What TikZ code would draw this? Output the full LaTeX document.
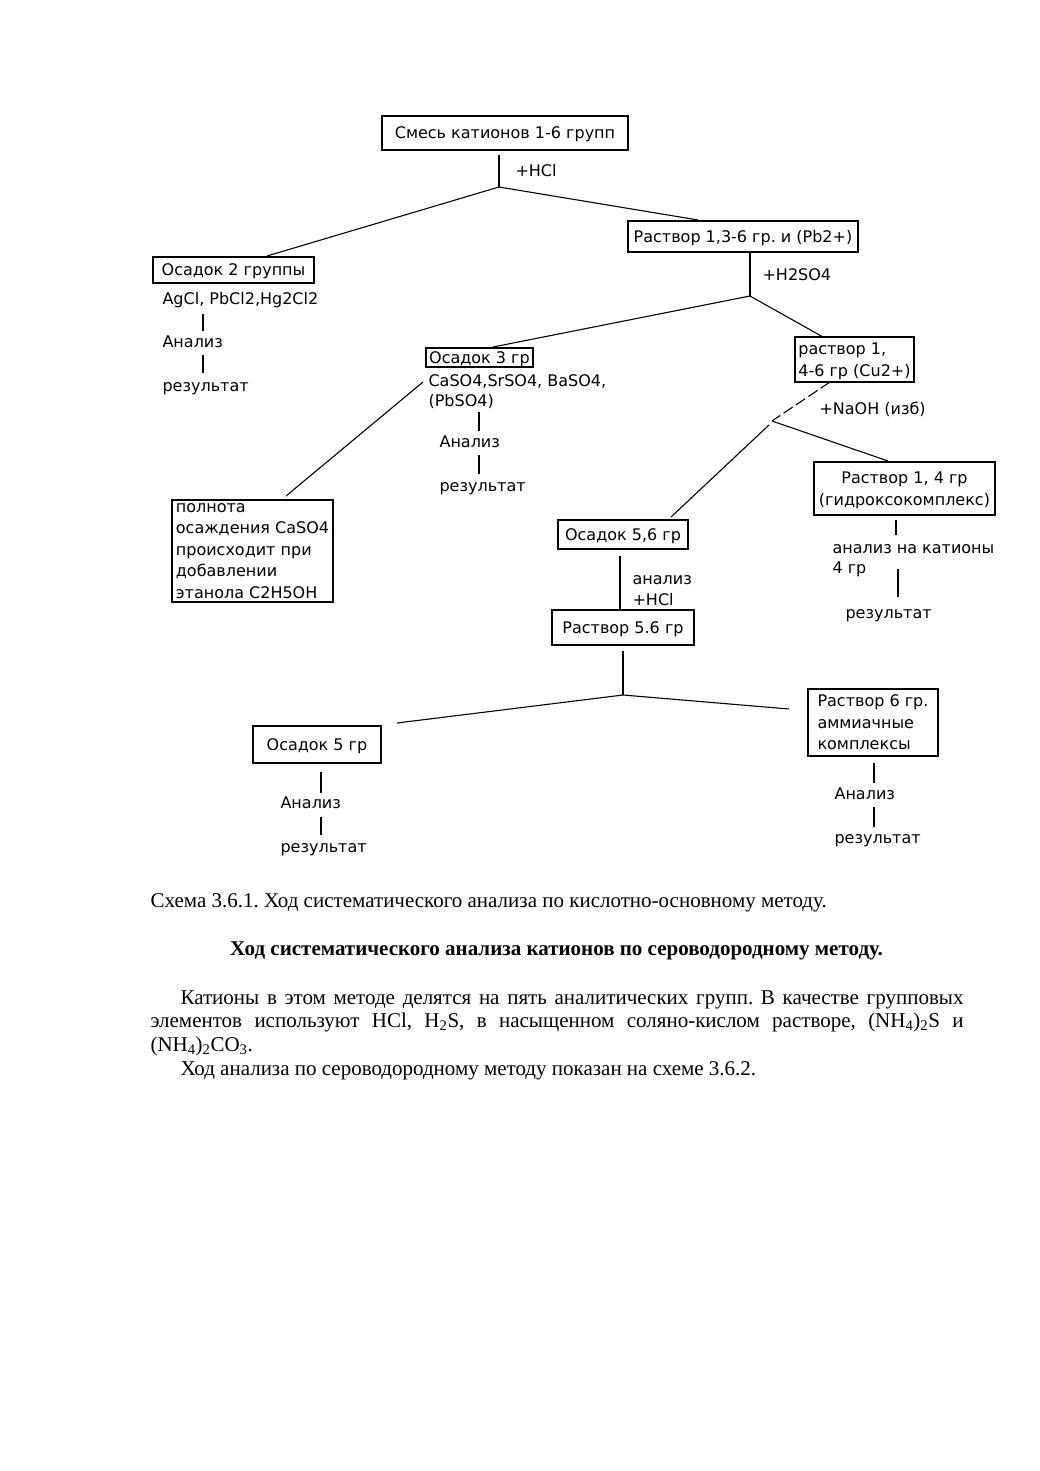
\documentclass[tikz,border=0pt]{standalone}
\usepackage{fontspec}
\setmainfont{Liberation Serif}
\newfontfamily\dv{DejaVu Sans}
\usetikzlibrary{calc}
\frenchspacing
\begin{document}
\begin{tikzpicture}[x=1pt,y=-1pt,line width=1.1pt,
  dfont/.style={font=\dv\fontsize{16}{21.5}\selectfont},
  bx/.style={draw,inner sep=0pt,align=left,text depth=0pt,dfont},
  lbl/.style={anchor=mid west,inner sep=0pt,yshift=-3pt,dfont},
  captxt/.style={anchor=mid west,inner sep=0pt,yshift=-4pt,font=\fontsize{21}{24}\selectfont\frenchspacing},
  brk/.style={dash pattern=on 11pt off 4pt}]
\useasboundingbox[fill=white] (0,0) rectangle (1039,1471);

% boxes
\node[bx,minimum width=246pt,minimum height=34pt] (mix) at (505,133) {Смесь катионов 1-6 групп};
\node[bx,minimum width=230pt,minimum height=31pt] (r136) at (743,236.5) {Раствор 1,3-6 гр. и (Pb2+)};
\node[bx,minimum width=161pt,minimum height=26pt] (o2) at (233.5,270) {Осадок 2 группы};
\node[bx,minimum width=107pt,minimum height=19pt] (o3) at (479.5,357.5) {Осадок 3 гр};
\node[bx,minimum width=161pt,minimum height=102pt] (note) at (252.5,551) {полнота\\осаждения CaSO4\\происходит при\\добавлении\\этанола C2H5OH};
\node[bx,minimum width=119pt,minimum height=45pt] (r146) at (854.5,359.5) {раствор 1,\\4-6 гр (Cu2+)};
\node[bx,align=center,minimum width=181pt,minimum height=53pt] (r14) at (904.5,488.5) {Раствор 1, 4 гр\\(гидроксокомплекс)};
\node[bx,minimum width=130pt,minimum height=29pt] (o56) at (623,534.5) {Осадок 5,6 гр};
\node[bx,minimum width=142pt,minimum height=35pt] (r56) at (623,627.5) {Раствор 5.6 гр};
\node[bx,minimum width=128pt,minimum height=37pt] (o5) at (317,744.5) {Осадок 5 гр};
\node[bx,minimum width=130pt,minimum height=67pt] (r6) at (873,722.5) {Раствор 6 гр.\\аммиачные\\комплексы};

% labels
\node[lbl] (hcl1) at (515,171) {+HCl};
\node[lbl] (ag) at (162,299) {AgCl, PbCl2,Hg2Cl2};
\node[lbl] (an2) at (162,342) {Анализ};
\node[lbl] (res2) at (162,386) {результат};
\node[lbl] (h2so4) at (762,275) {+H2SO4};
\node[lbl] (caso) at (428,381) {CaSO4,SrSO4, BaSO4,};
\node[lbl] (pbso) at (428,401) {(PbSO4)};
\node[lbl] (an3) at (439,442) {Анализ};
\node[lbl] (res3) at (439,486) {результат};
\node[lbl] (naoh) at (819,409) {+NaOH (изб)};
\node[lbl] (an14) at (832,548) {анализ на катионы};
\node[lbl] (g4) at (832,568) {4 гр};
\node[lbl] (res14) at (845,613) {результат};
\node[lbl] (an56) at (632,579) {анализ};
\node[lbl] (hcl2) at (632,600) {+HCl};
\node[lbl] (an5) at (280,803) {Анализ};
\node[lbl] (res5) at (280,847) {результат};
\node[lbl] (an6) at (834,794) {Анализ};
\node[lbl] (res6) at (834,838) {результат};

% junctions and line ends
\coordinate (j1) at (499,187);
\coordinate (j1t) at (499,155);
\coordinate (o2t) at (267,256);
\coordinate (r136t) at (698,220);
\coordinate (j2) at (750,296);
\coordinate (o3t) at (493,347);
\coordinate (r146t) at (823,337);
\coordinate (csa) at (423,382);
\coordinate (notet) at (286,496);
\coordinate (r146b) at (830,382);
\coordinate (j3) at (772,421);
\coordinate (j3b) at (769,425);
\coordinate (r14t) at (888,461);
\coordinate (o56t) at (671,517);
\coordinate (j4t) at (623,651);
\coordinate (j4) at (623,695);
\coordinate (o5t) at (397,723);
\coordinate (r6l) at (789,709);

% connectors
\draw (j1t) -- (j1);
\draw (j1) -- (o2t);
\draw (j1) -- (r136t);
\draw (r136.south -| j2) -- (j2);
\draw (j2) -- (o3t);
\draw (j2) -- (r146t);
\draw (csa) -- (notet);
\draw[brk] (r146b) -- (j3);
\draw (j3) -- (r14t);
\draw (j3b) -- (o56t);
\draw ($(o56.south)+(-3,6)$) -- ($(r56.north)+(-3,0)$);
\draw (j4t) -- (j4);
\draw (j4) -- (o5t);
\draw (j4) -- (r6l);
% small vertical ticks
\draw (203,314) -- (203,331);
\draw (203,355) -- (203,373);
\draw (479,412) -- (479,431);
\draw (479,455) -- (479,474);
\draw (896,520) -- (896,535);
\draw (898,569) -- (898,597);
\draw (321,772) -- (321,793);
\draw (321,817) -- (321,835);
\draw (874,763) -- (874,783);
\draw (874,807) -- (874,827);

% text below
\node[captxt] (caption) at (150,901) {Схема 3.6.1. Ход систематического анализа по кислотно-основному методу.};
\node[inner sep=0pt,yshift=-3pt,font=\fontsize{21}{24}\selectfont\bfseries] (head) at (556.5,948) {Ход систематического анализа катионов по сероводородному методу.};
\node[captxt] (p1) at (180,998) {\makebox[783pt][s]{Катионы в этом методе делятся на пять аналитических групп. В качестве групповых}};
\node[captxt] (p2) at (150,1021) {\makebox[813pt][s]{элементов используют HCl, H\textsubscript{2}S, в насыщенном соляно-кислом растворе, (NH\textsubscript{4})\textsubscript{2}S и}};
\node[captxt] (p3) at (150,1045) {(NH\textsubscript{4})\textsubscript{2}CO\textsubscript{3}.};
\node[captxt] (p4) at (180,1069) {Ход анализа по сероводородному методу показан на схеме 3.6.2.};
\end{tikzpicture}
\end{document}
